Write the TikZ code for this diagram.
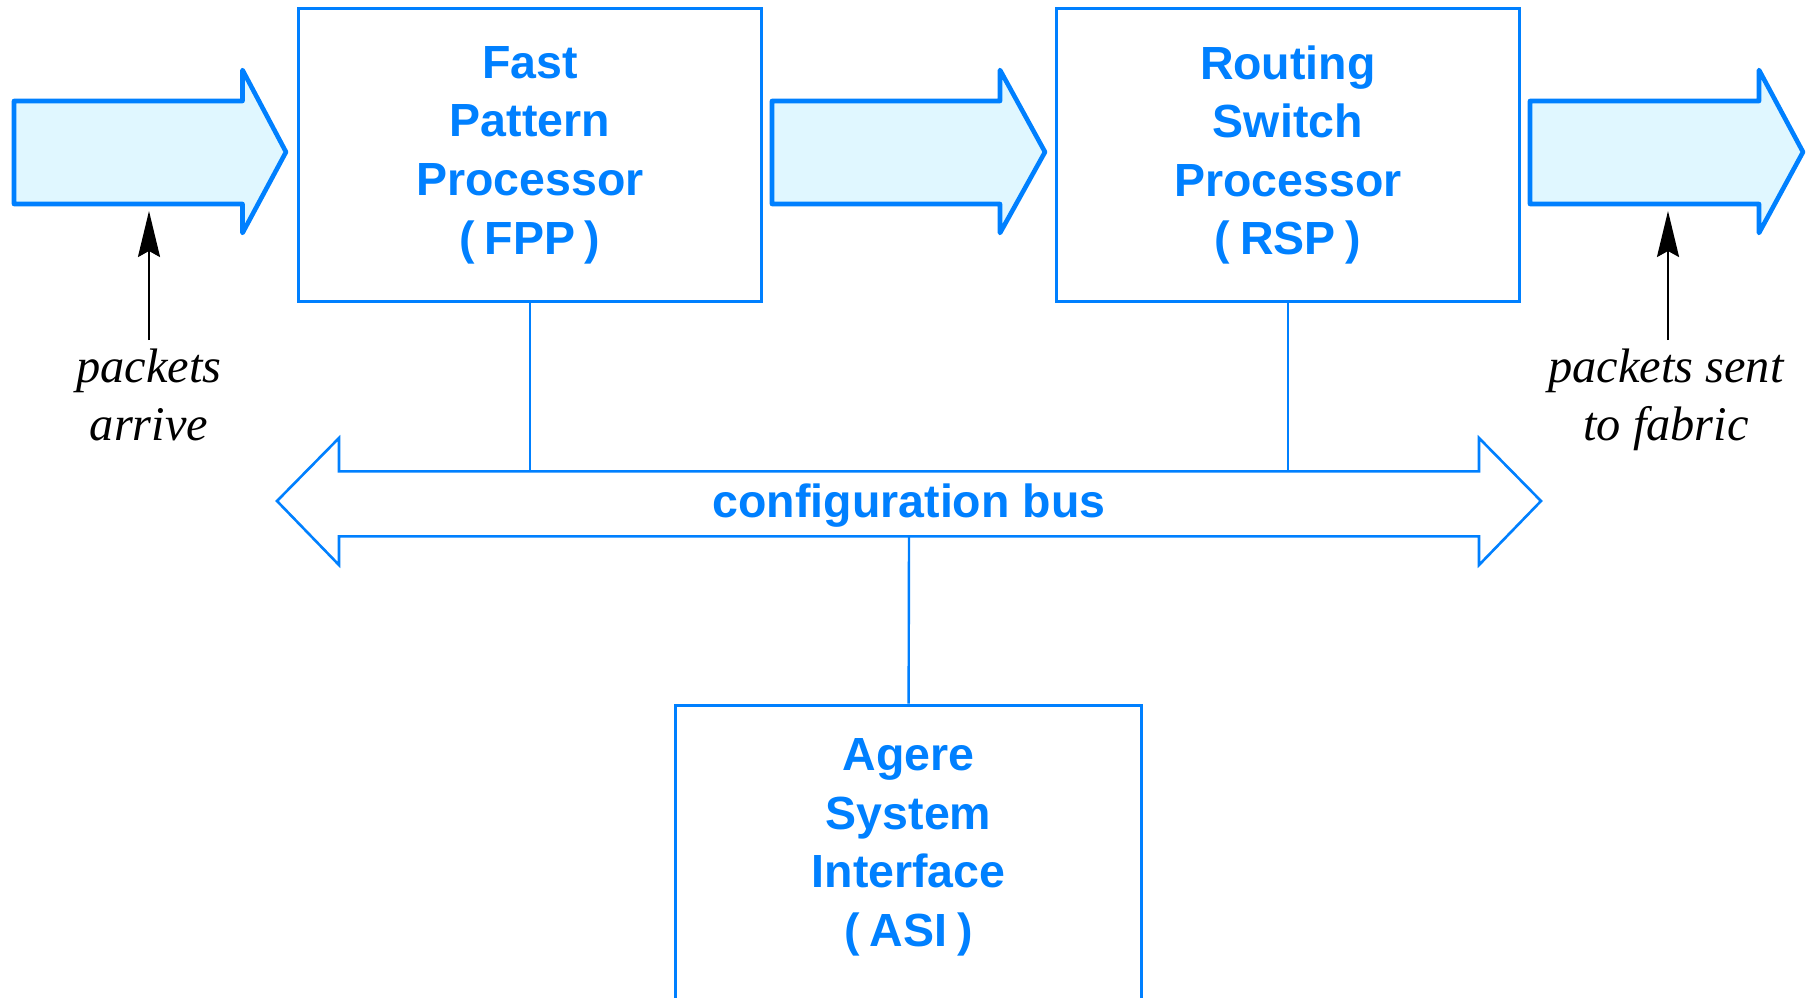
\documentclass[tikz,border=0pt]{standalone}
\usepackage{fontspec}
\setmainfont{Liberation Serif}
\setsansfont{Liberation Sans}
\usetikzlibrary{arrows.meta}
\definecolor{busblue}{RGB}{0,128,255}
\definecolor{paleblue}{RGB}{224,247,255}
\newcommand{\boxtextfont}{\sffamily\bfseries\fontsize{23.25pt}{29.3pt}\selectfont}
\newcommand{\notefont}{\itshape\fontsize{24.2pt}{29pt}\selectfont}
\newcommand{\pgap}{\hspace{0.21em}}
\begin{document}
\begin{tikzpicture}[x=0.5pt,y=-0.5pt,
  unitbox/.style={draw=busblue, line width=1.5pt, inner sep=0pt,
    minimum width=231.7pt, minimum height=146.4pt,
    text=busblue, font=\boxtextfont, align=center},
  boxlabel/.style={text=busblue, font=\boxtextfont, align=center, inner sep=0pt},
  fatarrow/.style={draw=busblue, fill=paleblue, line width=2.3pt, line join=round},
  busshape/.style={draw=busblue, fill=white, line width=1.3pt, line join=miter},
  conn/.style={draw=busblue, line width=1.2pt},
  pkarrow/.style={draw=black, line width=1.2pt, -{Stealth[length=23pt,width=11pt,inset=3pt]}},
  note/.style={font=\notefont, align=center, inner sep=0pt, text=black}]
\useasboundingbox (0,0) rectangle (1810,997);

% units
\node[unitbox] (FPP) at (530,155) {Fast\\Pattern\\Processor\\(\pgap FPP\pgap)};
\node[unitbox] (RSP) at (1287.8,155) {Routing\\Switch\\Processor\\(\pgap RSP\pgap)};
\node[unitbox, minimum width=232.7pt, minimum height=160pt, anchor=north] (ASI) at (908.6,703.5) {};
\node[boxlabel, anchor=north] (ASIlabel) at (908.6,738) {Agere\\System\\Interface\\(\pgap ASI\pgap)};

% fat packet-flow arrows
\draw[fatarrow] (14,101) -- (242.5,101) -- (242.5,70) -- (286,152) -- (242.5,233) -- (242.5,204) -- (14,204) -- cycle;
\draw[fatarrow] (772,101) -- (1000,101) -- (1000,70) -- (1045,152) -- (1000,233) -- (1000,204) -- (772,204) -- cycle;
\draw[fatarrow] (1530,101) -- (1759,101) -- (1759,70) -- (1803,152) -- (1759,233) -- (1759,204) -- (1530,204) -- cycle;

% configuration bus
\draw[busshape] (277,501) -- (339,438) -- (339,471.3) -- (1479,471.3) -- (1479,438) -- (1541,501)
  -- (1479,565) -- (1479,536.3) -- (339,536.3) -- (339,565) -- cycle;
\node[boxlabel] (bus) at (909,505.5) {configuration bus};
\coordinate (bustop) at (909,471.3);
\coordinate (busbot) at (909,536.3);

% connectors to the bus
\draw[conn] (FPP.south) -- (FPP.south |- bustop);
\draw[conn] (RSP.south) -- (RSP.south |- bustop);
\draw[conn] (busbot) -- (ASI.north);

% packet notes
\node[note, anchor=north] (arrive) at (149,349) {packets\\arrive};
\node[note, anchor=north] (sent) at (1666,349) {packets sent\\to fabric};
\coordinate (intip) at (149,211);
\coordinate (outtip) at (1668,211);
\draw[pkarrow] (149,340) -- (intip);
\draw[pkarrow] (1668,340) -- (outtip);
\end{tikzpicture}
\end{document}
